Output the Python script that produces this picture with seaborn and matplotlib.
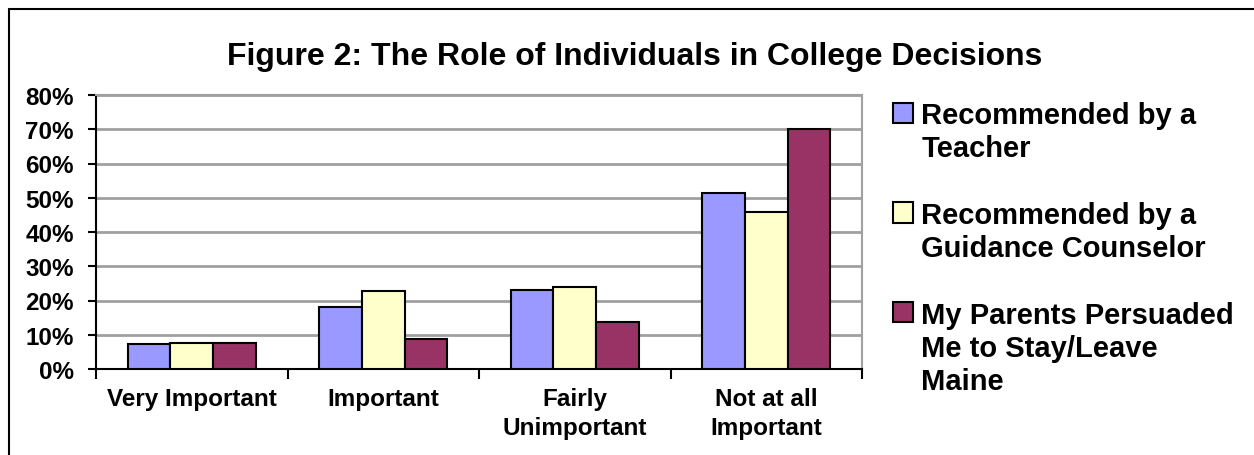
import matplotlib
matplotlib.use("Agg")
import matplotlib.pyplot as plt
import matplotlib.patches as mpatches
from matplotlib.lines import Line2D
from matplotlib.ticker import PercentFormatter, FixedLocator, MultipleLocator
import pandas as pd
import seaborn as sns

# datos
categorias = ["Very Important", "Important", "Fairly\nUnimportant", "Not at all\nImportant"]
series = ["Recommended by a\nTeacher",
          "Recommended by a\nGuidance Counselor",
          "My Parents Persuaded\nMe to Stay/Leave\nMaine"]
teacher = [0.074, 0.182, 0.231, 0.513]
counselor = [0.075, 0.228, 0.239, 0.458]
parents = [0.077, 0.088, 0.137, 0.700]
colores = ["#9999FF", "#FFFFCC", "#993366"]
titulo = "Figure 2: The Role of Individuals in College Decisions"

df = pd.DataFrame({
    "Categoria": categorias * 3,
    "Serie": [s for s in series for _ in categorias],
    "Valor": teacher + counselor + parents,
})

sns.set_style("white")
plt.rcParams["font.family"] = ["Liberation Sans", "DejaVu Sans"]
plt.rcParams["font.weight"] = "bold"
plt.rcParams["text.color"] = "black"
plt.rcParams["xtick.color"] = "black"
plt.rcParams["ytick.color"] = "black"

W, H = 1254, 456
fig = plt.figure(figsize=(W / 100, H / 100), dpi=100)
ax = fig.add_axes([96 / W, 1 - 370 / H, (862 - 96) / W, (370 - 96) / H])

sns.barplot(data=df, x="Categoria", y="Valor", hue="Serie", order=categorias,
            hue_order=series, palette=colores, saturation=1, width=0.67,
            edgecolor="black", linewidth=1.5, legend=False, ax=ax, zorder=3)

ax.set_ylim(0, 0.8)
ax.set_xlim(-0.5, 3.5)
ax.yaxis.set_major_locator(MultipleLocator(0.1))
ax.yaxis.set_major_formatter(PercentFormatter(1.0, decimals=0))
ax.yaxis.grid(True, color="#a0a0a0", lw=2)
ax.set_axisbelow(True)
ax.set_xlabel("")
ax.set_ylabel("")

for lado in ["left", "bottom"]:
    ax.spines[lado].set_color("black")
    ax.spines[lado].set_linewidth(1.5)
for lado in ["top", "right"]:
    ax.spines[lado].set_color("#a0a0a0")
    ax.spines[lado].set_linewidth(1.5)

ax.tick_params(axis="y", which="major", length=6, width=1.5, color="black",
               direction="out", left=True, labelsize=17.5, pad=10, labelcolor="black")
ax.tick_params(axis="x", which="major", length=0, labelsize=17.5, pad=13, labelcolor="black")
ax.xaxis.set_minor_locator(FixedLocator([-0.5, 0.5, 1.5, 2.5, 3.5]))
ax.tick_params(axis="x", which="minor", length=7, width=1.5, color="black",
               direction="out", bottom=True)
for t in ax.get_xticklabels() + ax.get_yticklabels():
    t.set_fontweight("bold")
for t in ax.get_xticklabels():
    t.set_linespacing(1.35)

# leyenda: una fila por linea de texto
filas_h, filas_l = [], []
for i, (s, c) in enumerate(zip(series, colores)):
    for j, linea in enumerate(s.split("\n")):
        if j == 0:
            filas_h.append(mpatches.Patch(facecolor=c, edgecolor="black", lw=1.5))
        else:
            filas_h.append(mpatches.Patch(fill=False, edgecolor="none"))
        filas_l.append(linea)
    if i < len(series) - 1:
        filas_h.append(mpatches.Patch(fill=False, edgecolor="none"))
        filas_l.append("")

fig.legend(filas_h, filas_l, loc="upper left", bbox_to_anchor=(893 / W, 1 - 102 / H),
           frameon=False, prop={"size": 21, "weight": "bold"}, labelcolor="black",
           handlelength=0.69, handleheight=0.69, handletextpad=0.28,
           labelspacing=0.18, borderpad=0, borderaxespad=0)

fig.text(635 / W, 1 - 57 / H, titulo, ha="center", va="center",
         fontsize=23, fontweight="bold", color="black")

# marco exterior
fig.add_artist(Line2D([8.5 / W, 8.5 / W], [0, 1 - 9.5 / H], transform=fig.transFigure,
                      color="black", lw=1.5))
fig.add_artist(Line2D([8.5 / W, 1], [1 - 9.5 / H, 1 - 9.5 / H], transform=fig.transFigure,
                      color="black", lw=1.5))

fig.savefig("out.png", dpi=100)
